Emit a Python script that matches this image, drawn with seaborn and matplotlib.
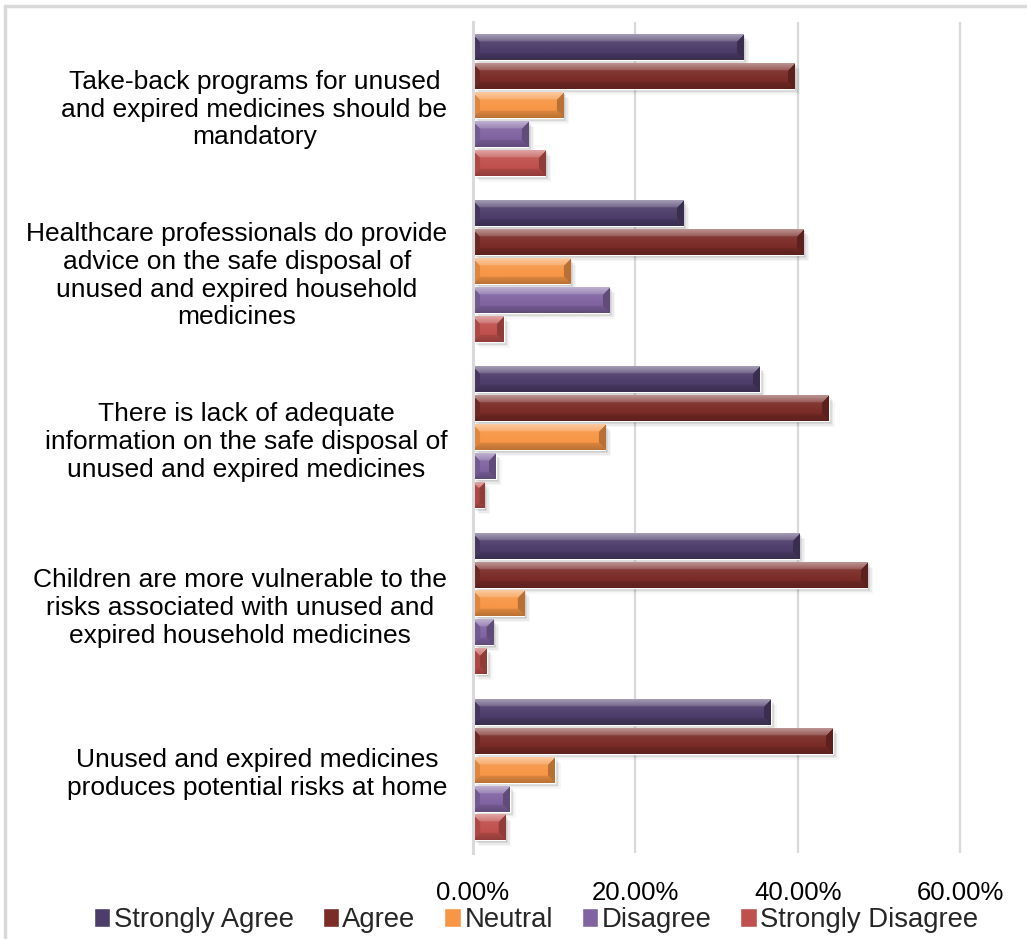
import numpy as np
import pandas as pd
import matplotlib
matplotlib.use("Agg")
import matplotlib.pyplot as plt
import matplotlib.transforms as mtransforms
from matplotlib.colors import to_rgb
from matplotlib.lines import Line2D
from matplotlib.patches import Rectangle
from matplotlib.ticker import MultipleLocator, PercentFormatter
import seaborn as sns

# ---- data -------------------------------------------------------------
statements = [
    "Take-back programs for unused\nand expired medicines should be\nmandatory",
    "Healthcare professionals do provide\nadvice on the safe disposal of\nunused and expired household\nmedicines",
    "There is lack of adequate\ninformation on the safe disposal of\nunused and expired medicines",
    "Children are more vulnerable to the\nrisks associated with unused and\nexpired household medicines",
    "Unused and expired medicines\nproduces potential risks at home",
]
responses = ["Strongly Agree", "Agree", "Neutral", "Disagree", "Strongly Disagree"]

strongly_agree = [33.3, 25.9, 35.3, 40.2, 36.7]
agree = [39.6, 40.7, 43.8, 48.6, 44.3]
neutral = [11.1, 12.0, 16.3, 6.3, 10.1]
disagree = [6.8, 16.8, 2.8, 2.5, 4.5]
strongly_disagree = [8.9, 3.8, 1.4, 1.7, 4.0]

palette = ["#4D3D6B", "#7B2C28", "#F79646", "#8064A2", "#C0504D"]

df = pd.DataFrame({
    "statement": statements * len(responses),
    "response": np.repeat(responses, len(statements)),
    "pct": np.concatenate([strongly_agree, agree, neutral, disagree, strongly_disagree]),
})

# ---- figure -----------------------------------------------------------
W, H = 1027, 939
sns.set_theme(style="white")
plt.rcParams["font.family"] = ["Liberation Sans", "DejaVu Sans"]
FS_TICK = 18.5
FS_CAT = 19.0
FS_LEG = 19.8

fig = plt.figure(figsize=(W / 100, H / 100), dpi=100)
fig.patch.set_facecolor("white")
ax = fig.add_axes([473 / W, 1 - 853 / H, 1 - 473 / W, (853 - 22) / H])

sns.barplot(
    data=df, y="statement", x="pct", hue="response",
    order=statements, hue_order=responses, palette=palette,
    saturation=1, width=0.87, gap=0.12, orient="h",
    errorbar=None, ax=ax,
)

ax.set_xlim(0, 68.25)
ax.set_ylim(4.5, -0.5)
ax.set_xlabel("")
ax.set_ylabel("")

ax.xaxis.set_major_locator(MultipleLocator(20))
ax.xaxis.set_major_formatter(PercentFormatter(xmax=100, decimals=2))
ax.xaxis.grid(True, color="#D9D9D9", lw=1.6)
ax.yaxis.grid(False)
ax.set_axisbelow(True)
for side in ["top", "right", "bottom"]:
    ax.spines[side].set_visible(False)
ax.spines["left"].set_color("#D9D9D9")
ax.spines["left"].set_linewidth(2.2)

ax.tick_params(axis="x", length=0, pad=20, labelsize=FS_TICK, labelcolor="black")
ax.tick_params(axis="y", length=0, pad=18.5, labelsize=FS_CAT, labelcolor="black")
for lbl in ax.get_yticklabels():
    lbl.set_multialignment("center")
    lbl.set_linespacing(1.2)

# ---- bevelled bars with soft drop shadow ------------------------------
def bevel_image(color, wpx, hpx, b=7.5):
    base = np.array(to_rgb(color))
    h = max(int(round(hpx)), 2)
    w = max(int(round(wpx)), 2)
    i = np.arange(h)[:, None] + 0.5
    j = np.arange(w)[None, :] + 0.5
    dt = np.broadcast_to(i, (h, w))
    db = np.broadcast_to(h - i, (h, w))
    dl = np.broadcast_to(j, (h, w))
    dr = np.broadcast_to(w - j, (h, w))
    stack = np.stack([dt, db, dl, dr])
    which = np.argmin(stack, axis=0)
    dmin = np.min(stack, axis=0)
    inside = dmin < b
    shade = np.zeros((h, w))
    top = inside & (which == 0)
    shade[top] = 0.50 - 0.30 * (dt[top] / b)
    bot = inside & (which == 1)
    shade[bot] = -0.10 - 0.15 * (1 - db[bot] / b)
    shade[inside & (which == 2)] = -0.10
    shade[inside & (which == 3)] = -0.25
    # faint sheen across the flat face
    face = ~inside
    shade[face] = 0.06 * np.clip(1 - (dt[face] - b) / (h / 3), 0, 1)
    pos = shade[..., None] > 0
    rgb = np.where(pos, base + shade[..., None] * (1 - base), base * (1 + shade[..., None]))
    return np.clip(rgb, 0, 1)


to_px = ax.transData
for container, color in zip(ax.containers, palette):
    for bar in container:
        x0, y0 = bar.get_x(), bar.get_y()
        bw, bh = bar.get_width(), bar.get_height()
        if bw <= 0:
            continue
        (px0, py0), (px1, py1) = to_px.transform([(x0, y0), (x0 + bw, y0 + bh)])
        # soft shadow below-right
        for off, a in [(1.5, 0.10), (3, 0.08), (4.5, 0.05), (6, 0.03)]:
            tr = ax.transData + mtransforms.ScaledTranslation(off / 100, -off / 100, fig.dpi_scale_trans)
            ax.add_patch(Rectangle((x0, y0), bw, bh, transform=tr, facecolor="black",
                                   edgecolor="none", alpha=a, zorder=1.5))
        img = bevel_image(color, abs(px1 - px0), abs(py1 - py0))
        ax.imshow(img, extent=[x0, x0 + bw, y0 + bh, y0], origin="upper",
                  aspect="auto", interpolation="bilinear", zorder=2.5)
        bar.set_zorder(2)

ax.set_xlim(0, 68.25)
ax.set_ylim(4.5, -0.5)

# ---- legend -----------------------------------------------------------
handles, labels = ax.get_legend_handles_labels()
if ax.get_legend() is not None:
    ax.get_legend().remove()
fig.legend(
    handles, labels, loc="center", bbox_to_anchor=(536 / W, 1 - 920 / H),
    ncol=5, frameon=False, fontsize=FS_LEG, handlelength=0.6, handleheight=0.65,
    handletextpad=0.12, columnspacing=1.05, borderaxespad=0,
)

# ---- outer frame ------------------------------------------------------
fig.add_artist(Line2D([5 / W, 5 / W], [0, 1 - 6 / H], transform=fig.transFigure,
                      color="#D9D9D9", lw=2.5))
fig.add_artist(Line2D([5 / W, 1], [1 - 6 / H, 1 - 6 / H], transform=fig.transFigure,
                      color="#D9D9D9", lw=2.5))

fig.savefig("out.png", dpi=100, facecolor="white")
